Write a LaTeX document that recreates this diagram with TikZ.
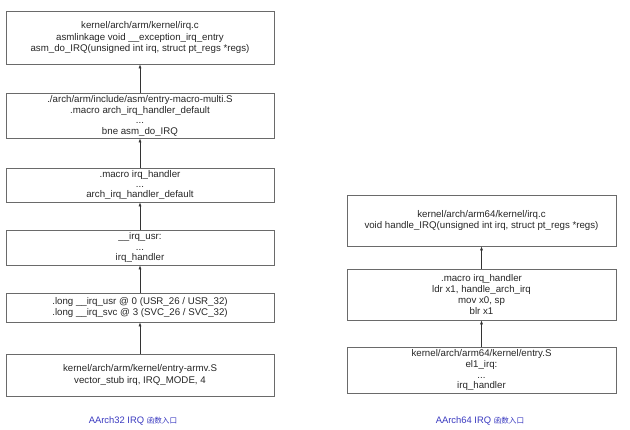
\documentclass[tikz,border=0pt]{standalone}
\usepackage{fontspec}
\setmainfont{Liberation Sans}
\newfontfamily\cjk{Noto Sans CJK SC}
\usetikzlibrary{arrows.meta}
\definecolor{boxline}{HTML}{6A6A6A}
\definecolor{capblue}{HTML}{3A3AC0}
\tikzset{
  codebox/.style={draw=boxline, line width=0.6pt, align=center, inner sep=0pt,
    font=\fontsize{9.7}{11.3}\selectfont, text=black!85},
  callarrow/.style={draw=black!80, line width=0.6pt, -{Latex[length=4pt,width=3pt]}},
  captext/.style={font=\fontsize{9.4}{11}\selectfont, text=capblue}
}
\begin{document}
\begin{tikzpicture}[x=1pt,y=-1pt]
\useasboundingbox (0,0) rectangle (630,429);
% left column
\node[codebox, minimum width=268pt, minimum height=53pt] (l1) at (140,37.5)
  {kernel/arch/arm/kernel/irq.c\\asmlinkage void \_\_exception\_irq\_entry\\asm\_do\_IRQ(unsigned int irq, struct pt\_regs *regs)};
\node[codebox, minimum width=268pt, minimum height=45pt] (l2) at (140,115.5)
  {./arch/arm/include/asm/entry-macro-multi.S\\.macro arch\_irq\_handler\_default\\[-1pt]...\\[-1pt]bne asm\_do\_IRQ};
\node[codebox, minimum width=268pt, minimum height=34pt] (l3) at (140,185)
  {.macro irq\_handler\\[-1pt]...\\[-1pt]arch\_irq\_handler\_default};
\node[codebox, minimum width=268pt, minimum height=35pt] (l4) at (140,247.5)
  {\_\_irq\_usr:\\[-1pt]...\\[-1pt]irq\_handler};
\node[codebox, minimum width=268pt, minimum height=29pt] (l5) at (140,307.5)
  {.long \_\_irq\_usr @ 0 (USR\_26 / USR\_32)\\.long \_\_irq\_svc @ 3 (SVC\_26 / SVC\_32)};
\node[codebox, minimum width=268pt, minimum height=42pt] (l6) at (140,375)
  {kernel/arch/arm/kernel/entry-armv.S\\vector\_stub irq, IRQ\_MODE, 4};
\node[captext] (c1) at (133,421) {AArch32 IRQ {\cjk\fontsize{7.6}{9}\selectfont 函数入口}};
\draw[callarrow] (l6) -- (l5);
\draw[callarrow] (l5) -- (l4);
\draw[callarrow] (l4) -- (l3);
\draw[callarrow] (l3) -- (l2);
\draw[callarrow] (l2) -- (l1);
% right column
\node[codebox, minimum width=269pt, minimum height=51pt] (r1) at (481.5,220.5)
  {kernel/arch/arm64/kernel/irq.c\\void handle\_IRQ(unsigned int irq, struct pt\_regs *regs)};
\node[codebox, minimum width=269pt, minimum height=51pt] (r2) at (481.5,294.5)
  {.macro irq\_handler\\ldr x1, handle\_arch\_irq\\mov x0, sp\\blr x1};
\node[codebox, minimum width=269pt, minimum height=46pt] (r3) at (481.5,370)
  {kernel/arch/arm64/kernel/entry.S\\el1\_irq:\\[-1pt]...\\[-1pt]irq\_handler};
\node[captext] (c2) at (480,421) {AArch64 IRQ {\cjk\fontsize{7.6}{9}\selectfont 函数入口}};
\draw[callarrow] (r3) -- (r2);
\draw[callarrow] (r2) -- (r1);
\end{tikzpicture}
\end{document}
